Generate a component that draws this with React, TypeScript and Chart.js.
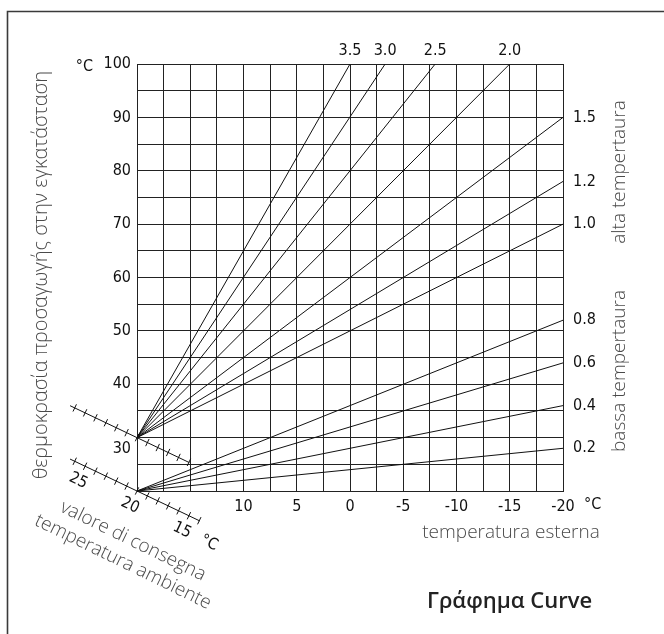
import React, { useEffect, useRef } from 'react';
import { Chart, registerables } from 'chart.js';

Chart.register(...registerables);

// ---- data ----
const outdoorMin = -20;
const outdoorMax = 20;
const flowMin = 20;
const flowMax = 100;
const outdoorLabelValues = [10, 5, 0, -5, -10, -15, -20];
const flowLabelValues = [40, 50, 60, 70, 80, 90, 100];

const lowOrigin = { x: 20, y: 20 };
const lowCurveLabels = ['0.2', '0.4', '0.6', '0.8'];
const lowCurveEndX = [-20, -20, -20, -20];
const lowCurveEndY = [28, 36, 44, 52];

const highOrigin = { x: 20, y: 30 };
const highCurveLabels = ['1.0', '1.2', '1.5', '2.0', '2.5', '3.0', '3.5'];
const highCurveEndX = [-20, -20, -20, -15, -8, -3.3, 0];
const highCurveEndY = [70, 78, 90, 100, 100, 100, 100];

const upperSetpointTicks = [26, 25, 24, 23, 22, 21, 20, 19, 18, 17, 16, 15];
const lowerSetpointTicks = [26, 25, 24, 23, 22, 21, 20, 19, 18, 17, 16, 15, 14];
const setpointLabelValues = [25, 20, 15];

const NUM_FAMILY = '"Liberation Sans Narrow", "DejaVu Sans Condensed", sans-serif';
const TXT_FAMILY = '"Open Sans", "Noto Sans", sans-serif';

type Curve = { label: string; ox: number; oy: number; ex: number; ey: number };
const curves: Curve[] = [
  ...lowCurveLabels.map((l, i) => ({ label: l, ox: lowOrigin.x, oy: lowOrigin.y, ex: lowCurveEndX[i], ey: lowCurveEndY[i] })),
  ...highCurveLabels.map((l, i) => ({ label: l, ox: highOrigin.x, oy: highOrigin.y, ex: highCurveEndX[i], ey: highCurveEndY[i] })),
];

const decorPlugin = {
  id: 'decor',
  afterDraw(chart: any) {
    const { ctx, chartArea: a, scales } = chart;
    const xs = scales.x;
    const ys = scales.y;
    ctx.save();

    // outer frame
    ctx.strokeStyle = '#3a3a3a';
    ctx.lineWidth = 1.6;
    ctx.beginPath();
    ctx.moveTo(7.5, 640);
    ctx.lineTo(7.5, 11.5);
    ctx.lineTo(670, 11.5);
    ctx.stroke();

    // curve labels
    ctx.fillStyle = '#111';
    ctx.font = `16px ${NUM_FAMILY}`;
    ctx.textBaseline = 'middle';
    curves.forEach((c) => {
      const px = xs.getPixelForValue(c.ex);
      const py = ys.getPixelForValue(c.ey);
      if (c.ey >= flowMax) {
        ctx.textAlign = 'center';
        ctx.fillText(c.label, px, a.top - 13);
      } else {
        ctx.textAlign = 'left';
        ctx.fillText(c.label, a.right + 10, py);
      }
    });

    // y "°C" and the displaced "30"
    ctx.textAlign = 'right';
    ctx.fillText('°C', a.left - 44, ys.getPixelForValue(flowMax) + 3);
    ctx.fillText('30', a.left - 6, ys.getPixelForValue(30) + 11);
    // x "°C"
    ctx.textAlign = 'left';
    ctx.fillText('°C', a.right + 21, a.bottom + 14);

    // setpoint (room temperature) scales
    const ang = (25.5 * Math.PI) / 180;
    const dx = Math.cos(ang);
    const dy = Math.sin(ang);
    const step = 11.5;
    const half = 4;
    const drawScale = (origin: { x: number; y: number }, ticks: number[], labels: boolean) => {
      const ox = xs.getPixelForValue(origin.x);
      const oy = ys.getPixelForValue(origin.y);
      const pos = (t: number) => {
        const s = (20 - t) * step;
        return [ox + s * dx, oy + s * dy];
      };
      ctx.strokeStyle = '#111';
      ctx.lineWidth = 1;
      const [x0, y0] = pos(ticks[0] + 0.45);
      const [x1, y1] = pos(ticks[ticks.length - 1] - 0.05);
      ctx.beginPath();
      ctx.moveTo(x0, y0);
      ctx.lineTo(x1, y1);
      ticks.forEach((t) => {
        const [px, py] = pos(t);
        ctx.moveTo(px + dy * half, py - dx * half);
        ctx.lineTo(px - dy * half, py + dx * half);
      });
      ctx.stroke();
      if (labels) {
        ctx.fillStyle = '#111';
        ctx.font = `16px ${NUM_FAMILY}`;
        ctx.textAlign = 'center';
        ctx.textBaseline = 'middle';
        const lab = (text: string, t: number) => {
          const [px, py] = pos(t);
          ctx.save();
          ctx.translate(px - dy * 16, py + dx * 16);
          ctx.rotate(ang);
          ctx.fillText(text, 0, 0);
          ctx.restore();
        };
        setpointLabelValues.forEach((v) => lab(String(v), v));
        lab('°C', 12.4);
      }
    };
    drawScale(highOrigin, upperSetpointTicks, false);
    drawScale(lowOrigin, lowerSetpointTicks, true);

    // gray titles
    ctx.fillStyle = '#4a4a4a';
    ctx.textAlign = 'center';
    ctx.textBaseline = 'middle';
    const rotText = (text: string, cx: number, cy: number, r: number) => {
      ctx.save();
      ctx.translate(cx, cy);
      ctx.rotate(r);
      ctx.fillText(text, 0, 0);
      ctx.restore();
    };
    ctx.font = `300 20px ${TXT_FAMILY}`;
    rotText('θερμοκρασία προσαγωγής στην εγκατάσταση', 41, 275, -Math.PI / 2);
    ctx.font = `300 19px ${TXT_FAMILY}`;
    rotText('alta tempertaura', a.right + 57, 172, -Math.PI / 2);
    rotText('bassa tempertaura', a.right + 57, 371, -Math.PI / 2);
    ctx.fillText('temperatura esterna', 511, a.bottom + 42);
    const tAng = (26 * Math.PI) / 180;
    rotText('valore di consegna', 133, 541, tAng);
    rotText('temperatura ambiente', 123, 562, tAng);

    // title
    ctx.fillStyle = '#222';
    ctx.font = `600 22px ${TXT_FAMILY}`;
    ctx.textAlign = 'left';
    ctx.textBaseline = 'alphabetic';
    ctx.fillText('Γράφημα Curve', 427, 608);

    ctx.restore();
  },
};

export default function App() {
  const ref = useRef<HTMLCanvasElement | null>(null);
  useEffect(() => {
    if (!ref.current) return;
    const datasets = curves.map((c) => ({
      label: c.label,
      data: [
        { x: c.ox, y: c.oy },
        { x: c.ex, y: c.ey },
      ],
      borderColor: '#111',
      borderWidth: 1,
      pointRadius: 0,
      fill: false,
      tension: 0,
    }));
    const chart = new Chart(ref.current, {
      type: 'line',
      data: { datasets },
      plugins: [decorPlugin],
      options: {
        responsive: false,
        animation: false,
        events: [],
        layout: { padding: { top: 64, right: 101, left: 0, bottom: 0 } },
        plugins: { legend: { display: false }, tooltip: { enabled: false }, title: { display: false } },
        scales: {
          x: {
            type: 'linear',
            reverse: true,
            min: outdoorMin,
            max: outdoorMax,
            afterFit: (s: any) => {
              s.height = 143;
            },
            grid: { color: '#222', lineWidth: 1, drawTicks: false },
            border: { display: true, color: '#222', width: 1 },
            ticks: {
              stepSize: 2.5,
              autoSkip: false,
              maxRotation: 0,
              padding: 6,
              color: '#111',
              font: { size: 16, family: NUM_FAMILY },
              callback: (v: any) => (outdoorLabelValues.includes(Number(v)) ? String(v) : ''),
            },
          },
          y: {
            type: 'linear',
            min: flowMin,
            max: flowMax,
            afterFit: (s: any) => {
              s.width = 137;
            },
            grid: { color: '#222', lineWidth: 1, drawTicks: false },
            border: { display: true, color: '#222', width: 1 },
            ticks: {
              stepSize: 5,
              autoSkip: false,
              padding: 6,
              color: '#111',
              font: { size: 16, family: NUM_FAMILY },
              callback: (v: any) => (flowLabelValues.includes(Number(v)) ? String(v) : ''),
            },
          },
        },
      },
    });
    return () => chart.destroy();
  }, []);
  return (
    <div style={{ position: 'fixed', left: 0, top: 0, width: 664, height: 634, background: '#fff' }}>
      <canvas ref={ref} width={664} height={634} />
    </div>
  );
}
